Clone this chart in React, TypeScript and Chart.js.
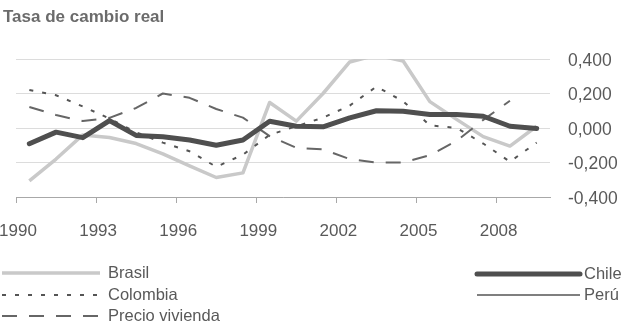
import React, { useEffect, useRef } from "react";
import { Chart, registerables } from "chart.js";

Chart.register(...registerables);

// Years on the horizontal axis (one point per year, centred in its slot)
const years = [
  1990, 1991, 1992, 1993, 1994, 1995, 1996, 1997, 1998, 1999,
  2000, 2001, 2002, 2003, 2004, 2005, 2006, 2007, 2008, 2009,
];
// Labelled slot boundaries on the horizontal axis
const tickYears = [1990, 1993, 1996, 1999, 2002, 2005, 2008];
// Value axis ticks
const yTicks = [-0.4, -0.2, 0, 0.2, 0.4];

const brasil = [
  -0.306, -0.18, -0.04, -0.055, -0.09, -0.15, -0.22, -0.287, -0.26, 0.148,
  0.04, 0.2, 0.383, 0.423, 0.388, 0.153, 0.05, -0.05, -0.105, 0.01,
];
const colombia = [
  0.22, 0.19, 0.125, 0.055, -0.025, -0.085, -0.135, -0.225, -0.155, -0.04,
  0.01, 0.06, 0.13, 0.24, 0.155, 0.015, 0.0, -0.09, -0.195, -0.085,
];
const precioVivienda: (number | null)[] = [
  0.122, 0.075, 0.04, 0.059, 0.116, 0.2, 0.175, 0.11, 0.06, -0.047,
  -0.115, -0.124, -0.18, -0.2, -0.2, -0.158, -0.075, 0.047, 0.158, null,
];
const chile = [
  -0.091, -0.024, -0.056, 0.043, -0.043, -0.051, -0.07, -0.1, -0.07, 0.039,
  0.01, 0.007, 0.059, 0.1, 0.097, 0.078, 0.078, 0.068, 0.01, -0.003,
];
// Perú is listed in the key but has no observations in this window
const peru: number[] = [];

const FONT = '"Liberation Sans", Arial, sans-serif';
const TEXT = "#595959";

const toPoints = (vals: (number | null)[]) =>
  vals.map((v, i) => ({ x: years[i], y: v }));

// Title and two-column key drawn straight onto the canvas
const annotations = {
  id: "titleAndKey",
  afterDraw(chart: any) {
    const ctx = chart.ctx as CanvasRenderingContext2D;
    ctx.save();
    ctx.fillStyle = "#6b6b6b";
    ctx.font = `bold 17px ${FONT}`;
    ctx.textBaseline = "middle";
    ctx.textAlign = "left";
    ctx.fillText("Tasa de cambio real", 3, 17);

    const slots = [
      { x0: 2, x1: 100, tx: 108, y: 273 },
      { x0: 2, x1: 100, tx: 108, y: 295 },
      { x0: 2, x1: 100, tx: 108, y: 316 },
      { x0: 477, x1: 580, tx: 584, y: 274 },
      { x0: 477, x1: 580, tx: 584, y: 295 },
    ];
    chart.data.datasets.forEach((ds: any, i: number) => {
      const s = slots[i];
      if (!s) return;
      ctx.beginPath();
      ctx.setLineDash(ds.borderDash || []);
      ctx.lineWidth = ds.borderWidth;
      ctx.strokeStyle = ds.borderColor;
      ctx.lineCap = ds.borderCapStyle || "butt";
      ctx.moveTo(s.x0, s.y);
      ctx.lineTo(s.x1, s.y);
      ctx.stroke();
      ctx.setLineDash([]);
      ctx.fillStyle = TEXT;
      ctx.font = `16.5px ${FONT}`;
      ctx.fillText(ds.label, s.tx, s.y);
    });
    ctx.restore();
  },
};

export default function App() {
  const ref = useRef<HTMLCanvasElement | null>(null);

  useEffect(() => {
    document.body.style.margin = "0";
    const canvas = ref.current;
    if (!canvas) return;
    const chart = new Chart(canvas, {
      type: "line",
      data: {
        datasets: [
          {
            label: "Brasil",
            data: toPoints(brasil),
            borderColor: "#c9c9c9",
            borderWidth: 3.5,
            order: 3,
          },
          {
            label: "Colombia",
            data: toPoints(colombia),
            borderColor: "#555555",
            borderWidth: 2,
            borderDash: [4, 9],
            order: 1,
          },
          {
            label: "Precio vivienda",
            data: toPoints(precioVivienda),
            borderColor: "#666666",
            borderWidth: 2,
            borderDash: [15, 12],
            order: 2,
          },
          {
            label: "Chile",
            data: toPoints(chile),
            borderColor: "#4f4f4f",
            borderWidth: 5,
            borderCapStyle: "round",
            order: 0,
          },
          {
            label: "Perú",
            data: toPoints(peru),
            borderColor: "#555555",
            borderWidth: 1.5,
            order: 4,
          },
        ] as any,
      },
      options: {
        animation: false,
        responsive: false,
        events: [],
        layout: { padding: { left: 16, right: 0, top: 59, bottom: 81 } },
        elements: {
          point: { radius: 0 },
          line: { tension: 0, borderJoinStyle: "round", fill: false },
        },
        plugins: {
          legend: { display: false },
          title: { display: false },
          tooltip: { enabled: false },
        },
        scales: {
          x: {
            type: "linear",
            min: years[0] - 0.5,
            max: years[years.length - 1] + 0.5,
            afterBuildTicks: (scale: any) => {
              scale.ticks = tickYears.map((y) => ({ value: y - 0.5 }));
            },
            afterFit: (scale: any) => {
              scale.height = 48;
              scale.paddingLeft = 0;
              scale.paddingRight = 0;
            },
            grid: {
              drawOnChartArea: false,
              drawTicks: true,
              tickLength: 6,
              color: "#a8a8a8",
            },
            border: { display: true, color: "#a8a8a8" },
            ticks: {
              autoSkip: false,
              maxRotation: 0,
              padding: 18,
              labelOffset: 2,
              color: TEXT,
              font: { family: FONT, size: 17 },
              callback: (v: any) => String(Math.round(Number(v) + 0.5)),
            },
          },
          y: {
            position: "right",
            min: yTicks[0],
            max: yTicks[yTicks.length - 1],
            afterBuildTicks: (scale: any) => {
              scale.ticks = yTicks.map((v) => ({ value: v }));
            },
            afterFit: (scale: any) => {
              scale.width = 79;
            },
            grid: { color: "#dcdcdc", drawTicks: false },
            border: { display: false },
            ticks: {
              padding: 18,
              labelOffset: 2,
              color: TEXT,
              font: { family: FONT, size: 17.5 },
              callback: (v: any) => Number(v).toFixed(3).replace(".", ","),
            },
          },
        },
      } as any,
      plugins: [annotations],
    });
    return () => chart.destroy();
  }, []);

  return (
    <div style={{ width: 629, height: 326, background: "#fff" }}>
      <canvas ref={ref} width={629} height={326} />
    </div>
  );
}
